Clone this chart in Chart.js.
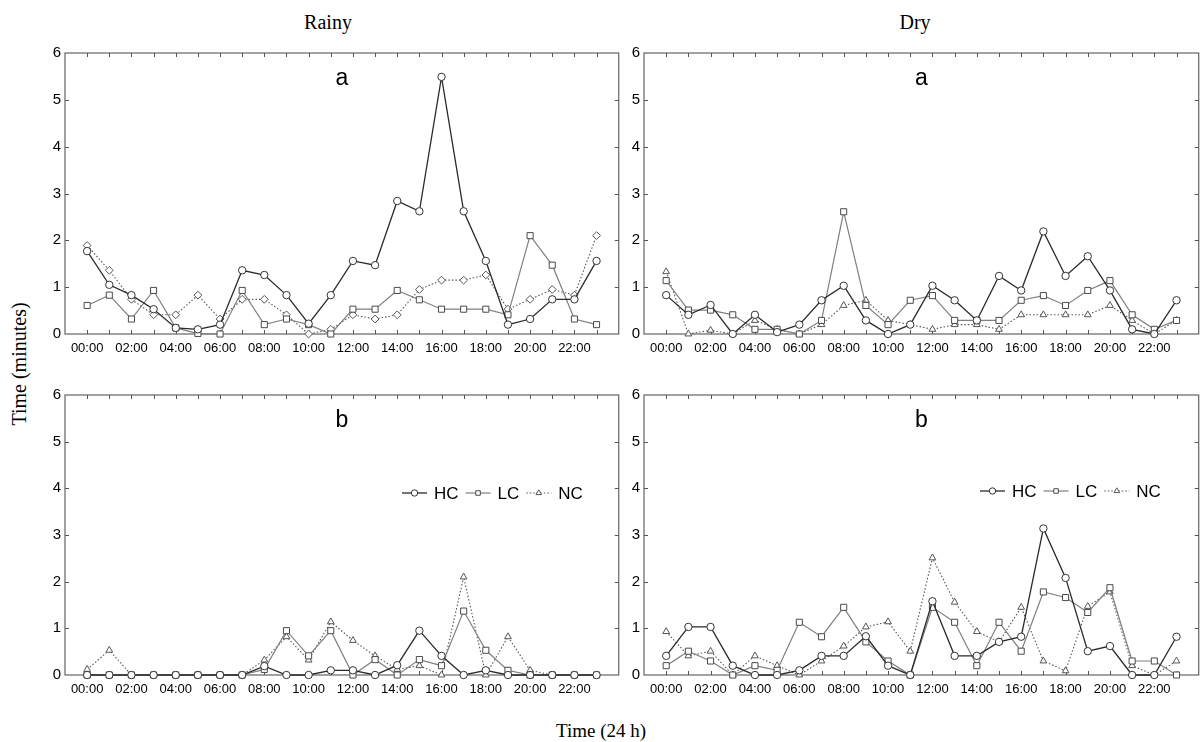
<!DOCTYPE html>
<html>
<head>
<meta charset="utf-8">
<script src="https://cdn.jsdelivr.net/npm/chart.js@4.4.1/dist/chart.umd.min.js"></script>
<style>
  html, body { margin: 0; padding: 0; background: #fff; }
  body { width: 1204px; height: 742px; position: relative; overflow: hidden; }
  canvas { position: absolute; }
  .ttl { position: absolute; font-family: "Liberation Serif", "Times New Roman", serif; color: #000; white-space: nowrap; transform: translate(-50%, -50%); }
</style>
</head>
<body>
<div class="ttl" style="left:328px; top:22px; font-size:20px;">Rainy</div>
<div class="ttl" style="left:915px; top:22px; font-size:20px;">Dry</div>
<div class="ttl" style="left:19px; top:364px; font-size:20px; transform: translate(-50%, -50%) rotate(-90deg);">Time (minutes)</div>
<div class="ttl" style="left:601px; top:731px; font-size:19px;">Time (24 h)</div>

<canvas id="rainyA" width="584" height="330" style="left:40px; top:40px;"></canvas>
<canvas id="dryA" width="585" height="330" style="left:619px; top:40px;"></canvas>
<canvas id="rainyB" width="584" height="329" style="left:40px; top:382px;"></canvas>
<canvas id="dryB" width="585" height="329" style="left:619px; top:382px;"></canvas>

<script>
// Hour of day for each observation, and the labelled axis ticks
const hours = [0,1,2,3,4,5,6,7,8,9,10,11,12,13,14,15,16,17,18,19,20,21,22,23];
const tickHours = [0,2,4,6,8,10,12,14,16,18,20,22];
const xTickLabels = ['00:00','02:00','04:00','06:00','08:00','10:00','12:00','14:00','16:00','18:00','20:00','22:00'];
const yTicks = [0,1,2,3,4,5,6];
const seriesNames = ['HC','LC','NC'];

// Rainy season, a
const rainyA_HC = [1.77,1.05,0.83,0.53,0.13,0.10,0.20,1.36,1.26,0.83,0.22,0.83,1.56,1.47,2.84,2.62,5.49,2.62,1.56,0.20,0.32,0.74,0.74,1.56];
const rainyA_LC = [0.61,0.83,0.32,0.93,0.13,0.01,0.00,0.93,0.20,0.32,0.20,0.00,0.53,0.53,0.93,0.73,0.53,0.53,0.53,0.41,2.10,1.47,0.32,0.20];
const rainyA_NC = [1.89,1.36,0.74,0.41,0.41,0.83,0.32,0.74,0.74,0.41,0.00,0.10,0.41,0.32,0.41,0.95,1.15,1.15,1.26,0.53,0.74,0.95,0.83,2.10];

// Dry season, a
const dryA_HC = [0.83,0.41,0.62,0.00,0.41,0.04,0.20,0.72,1.03,0.29,0.00,0.20,1.03,0.72,0.29,1.24,0.93,2.19,1.24,1.66,0.93,0.10,0.00,0.72];
const dryA_LC = [1.14,0.51,0.51,0.41,0.10,0.10,0.00,0.29,2.61,0.61,0.20,0.72,0.82,0.29,0.29,0.29,0.72,0.82,0.61,0.93,1.14,0.41,0.10,0.29];
const dryA_NC = [1.33,0.00,0.08,0.00,0.29,0.10,0.00,0.20,0.61,0.72,0.29,0.20,0.10,0.20,0.20,0.10,0.41,0.41,0.41,0.41,0.61,0.29,0.00,0.29];

// Rainy season, b
const rainyB_HC = [0,0,0,0,0,0,0,0,0.19,0,0,0.10,0.10,0,0.21,0.95,0.41,0,0.10,0,0,0,0,0];
const rainyB_LC = [0,0,0,0,0,0,0,0,0.12,0.95,0.41,0.95,0,0.33,0,0.33,0.20,1.37,0.53,0.10,0,0,0,0];
const rainyB_NC = [0.12,0.53,0,0,0,0,0,0,0.32,0.82,0.32,1.14,0.74,0.41,0.12,0.20,0,2.10,0,0.82,0.10,0,0,0];

// Dry season, b
const dryB_HC = [0.41,1.03,1.03,0.20,0,0,0.10,0.41,0.41,0.83,0.20,0,1.58,0.41,0.41,0.71,0.82,3.14,2.08,0.51,0.62,0,0,0.82];
const dryB_LC = [0.20,0.51,0.30,0,0.20,0.10,1.13,0.82,1.45,0.71,0.30,0,1.45,1.13,0.20,1.13,0.51,1.78,1.66,1.34,1.87,0.30,0.30,0];
const dryB_NC = [0.93,0.41,0.51,0,0.41,0.20,0,0.30,0.62,1.03,1.14,0.51,2.51,1.56,0.93,0.71,1.45,0.30,0.09,1.47,1.78,0.20,0,0.30];

const SANS = '"Liberation Sans", Arial, Helvetica, sans-serif';

const STYLE = {
  HC: { borderColor: '#2a2a2a', borderWidth: 1.3, borderDash: [], pointStyle: 'circle', pointBorderColor: '#333', radius: 3.7 },
  LC: { borderColor: '#808080', borderWidth: 1.2, borderDash: [], pointStyle: 'rect', pointBorderColor: '#4a4a4a', radius: 4.3 },
  NC: { borderColor: '#555555', borderWidth: 1.1, borderDash: [1.5, 2], pointStyle: 'triangle', pointBorderColor: '#555', radius: 3.9 }
};

function makeDataset(name, values, markerOverride) {
  const s = STYLE[name];
  return {
    label: name,
    data: hours.map((h, i) => ({ x: h, y: values[i] })),
    borderColor: s.borderColor,
    borderWidth: s.borderWidth,
    borderDash: s.borderDash,
    pointStyle: markerOverride || s.pointStyle,
    pointRadius: s.radius,
    pointBackgroundColor: '#fff',
    pointBorderColor: s.pointBorderColor,
    pointBorderWidth: 1,
    tension: 0,
    fill: false,
    clip: false
  };
}

// Frame with inward tick marks on all four sides
const framePlugin = {
  id: 'frame',
  beforeDatasetsDraw(chart) {
    const { ctx, chartArea: a, scales: { x, y } } = chart;
    ctx.save();
    ctx.strokeStyle = '#707070';
    ctx.lineWidth = 1.3;
    ctx.strokeRect(a.left, a.top, a.right - a.left, a.bottom - a.top);
    ctx.lineWidth = 1;
    ctx.strokeStyle = '#555';
    ctx.beginPath();
    hours.forEach(h => {
      const px = Math.round(x.getPixelForValue(h)) + 0.5;
      ctx.moveTo(px, a.top); ctx.lineTo(px, a.top + 4);
      ctx.moveTo(px, a.bottom); ctx.lineTo(px, a.bottom - 4);
    });
    yTicks.slice(1, -1).forEach(v => {
      const py = Math.round(y.getPixelForValue(v)) + 0.5;
      ctx.moveTo(a.left, py); ctx.lineTo(a.left + 4, py);
      ctx.moveTo(a.right, py); ctx.lineTo(a.right - 4, py);
    });
    ctx.stroke();
    ctx.restore();
  }
};

// Panel letter and the line-and-marker legend
const panelPlugin = {
  id: 'panelDecor',
  afterDraw(chart, args, opts) {
    const { ctx, chartArea: a } = chart;
    ctx.save();
    ctx.fillStyle = '#000';
    ctx.font = '23px ' + SANS;
    ctx.textAlign = 'center';
    ctx.textBaseline = 'middle';
    ctx.fillText(opts.letter, (a.left + a.right) / 2, a.top + 26);
    if (opts.legend) {
      let lx = a.left + opts.legend.dx;
      const ly = a.top + opts.legend.dy;
      ctx.font = '17px ' + SANS;
      ctx.textAlign = 'left';
      chart.data.datasets.forEach(ds => {
        ctx.strokeStyle = ds.borderColor;
        ctx.lineWidth = ds.borderWidth;
        ctx.setLineDash(ds.borderDash || []);
        ctx.beginPath();
        ctx.moveTo(lx, ly); ctx.lineTo(lx + 25, ly);
        ctx.stroke();
        ctx.setLineDash([]);
        ctx.fillStyle = '#fff';
        ctx.strokeStyle = ds.pointBorderColor;
        ctx.lineWidth = 1;
        Chart.helpers.drawPoint(ctx, { pointStyle: ds.pointStyle, radius: 3.2, borderWidth: 1, rotation: 0 }, lx + 12.5, ly);
        ctx.fillStyle = '#000';
        ctx.fillText(ds.label, lx + 32, ly + 1);
        lx += 32 + ctx.measureText(ds.label).width + 7;
      });
    }
    ctx.restore();
  }
};

function makePanel(id, series, letter, legend, rightPad, ncMarker) {
  const datasets = [
    makeDataset(seriesNames[0], series[0]),
    makeDataset(seriesNames[1], series[1]),
    makeDataset(seriesNames[2], series[2], ncMarker)
  ];
  return new Chart(document.getElementById(id), {
    type: 'line',
    data: { datasets },
    plugins: [framePlugin, panelPlugin],
    options: {
      responsive: false,
      animation: false,
      devicePixelRatio: 1,
      layout: { padding: { top: 8, right: rightPad, left: 0, bottom: 0 } },
      plugins: {
        legend: { display: false },
        tooltip: { enabled: false },
        panelDecor: { letter, legend }
      },
      scales: {
        x: {
          type: 'linear', min: -1, max: 24,
          afterFit(s) { s.height = 36; },
          afterBuildTicks(s) { s.ticks = tickHours.map(v => ({ value: v })); },
          grid: { display: false, drawTicks: false },
          border: { display: false },
          ticks: {
            autoSkip: false, maxRotation: 0, padding: 7, color: '#000',
            font: { family: SANS, size: 13 },
            callback: v => xTickLabels[tickHours.indexOf(v)] ?? ''
          }
        },
        y: {
          min: 0, max: 6,
          afterFit(s) { s.width = 25; },
          afterBuildTicks(s) { s.ticks = yTicks.map(v => ({ value: v })); },
          grid: { display: false, drawTicks: false },
          border: { display: false },
          ticks: { padding: 4, color: '#000', font: { family: SANS, size: 15 } }
        }
      }
    }
  });
}

makePanel('rainyA', [rainyA_HC, rainyA_LC, rainyA_NC], 'a', null, 1, 'rectRot');
makePanel('dryA', [dryA_HC, dryA_LC, dryA_NC], 'a', null, 3);
makePanel('rainyB', [rainyB_HC, rainyB_LC, rainyB_NC], 'b', { dx: 337, dy: 98 }, 1);
makePanel('dryB', [dryB_HC, dryB_LC, dryB_NC], 'b', { dx: 336, dy: 96 }, 3);
</script>
</body>
</html>
